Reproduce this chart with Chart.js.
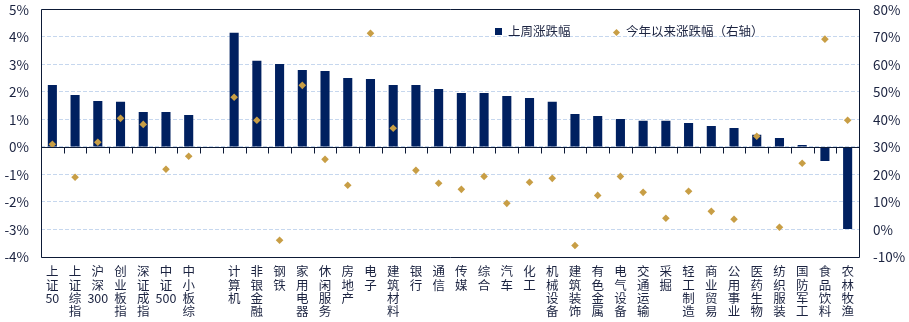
<!DOCTYPE html>
<html>
<head>
<meta charset="utf-8">
<script src="https://cdn.jsdelivr.net/npm/chart.js@4/dist/chart.umd.min.js"></script>
<style>
  html, body { margin: 0; padding: 0; background: #fff; }
  #wrap { position: relative; width: 909px; height: 322px; }
  #c { display: block; }
  .lg { position: absolute; font-family: "Noto Sans CJK SC", sans-serif; font-size: 12.5px; color: #1b2340; line-height: 1; white-space: nowrap; }
  .sq { position: absolute; width: 7px; height: 7px; background: #002060; }
  .dm { position: absolute; width: 5px; height: 5px; background: #c89e45; transform: rotate(45deg); }
</style>
</head>
<body>
<div id="wrap">
  <canvas id="c" width="909" height="322"></canvas>
  <div class="sq" style="left:495px; top:28px;"></div>
  <div class="lg" style="left:508px; top:25px;">上周涨跌幅</div>
  <div class="dm" style="left:614px; top:30px;"></div>
  <div class="lg" style="left:626px; top:25px;">今年以来涨跌幅（右轴）</div>
</div>
<script>
// ---- data ----
const categories = ['上证50','上证综指','沪深300','创业板指','深证成指','中证500','中小板综','',
  '计算机','非银金融','钢铁','家用电器','休闲服务','房地产','电子','建筑材料','银行','通信','传媒',
  '综合','汽车','化工','机械设备','建筑装饰','有色金属','电气设备','交通运输','采掘','轻工制造',
  '商业贸易','公用事业','医药生物','纺织服装','国防军工','食品饮料','农林牧渔'];

// 上周涨跌幅 (%) - left axis
const weeklyChange = [2.25, 1.89, 1.67, 1.64, 1.27, 1.27, 1.16, null,
  4.15, 3.13, 3.02, 2.80, 2.76, 2.51, 2.47, 2.25, 2.25, 2.11, 1.96,
  1.96, 1.85, 1.78, 1.64, 1.20, 1.13, 1.02, 0.95, 0.95, 0.87,
  0.76, 0.69, 0.44, 0.33, 0.07, -0.51, -2.98];

// 今年以来涨跌幅 (%) - right axis
const ytdChange = [31.0, 19.0, 31.7, 40.4, 38.2, 21.9, 26.6, null,
  48.1, 39.7, -3.9, 52.4, 25.5, 16.1, 71.3, 36.8, 21.5, 16.8, 14.6,
  19.3, 9.5, 17.2, 18.6, -5.8, 12.4, 19.3, 13.5, 4.1, 13.9,
  6.6, 3.7, 33.9, 0.8, 24.1, 69.2, 39.7];

const leftAxisRange = [-4, 5, 1];    // min, max, step
const rightAxisRange = [-10, 80, 10];

const seriesNames = ['上周涨跌幅', '今年以来涨跌幅（右轴）'];

function verticalLabel(s) {
  if (!s) return '';
  return s.match(/[0-9]+|./g);
}

const textColor = '#1b2340';
const frameColor = '#0d1a36';

const framePlugin = {
  id: 'frame',
  afterDraw(chart) {
    const { ctx, chartArea: { left, right, top, bottom }, scales: { x, y } } = chart;
    ctx.save();
    ctx.strokeStyle = frameColor;
    ctx.lineWidth = 1;
    ctx.setLineDash([]);
    const y0 = Math.round(y.getPixelForValue(0)) + 0.5;
    ctx.beginPath();
    ctx.moveTo(left, y0);
    ctx.lineTo(right, y0);
    for (let i = 0; i < categories.length - 1; i++) {
      const bx = Math.round((x.getPixelForValue(i) + x.getPixelForValue(i + 1)) / 2) + 0.5;
      ctx.moveTo(bx, y0);
      ctx.lineTo(bx, y0 + 6);
    }
    const l = Math.round(left) + 0.5, t = Math.round(top) + 0.5;
    const r = Math.round(right) + 0.5, b = Math.round(bottom) + 0.5;
    ctx.moveTo(l, t); ctx.lineTo(r, t); ctx.lineTo(r, b); ctx.lineTo(l, b); ctx.closePath();
    ctx.stroke();
    ctx.restore();
  }
};

new Chart(document.getElementById('c'), {
  data: {
    labels: categories.map(verticalLabel),
    datasets: [
      {
        type: 'line',
        label: seriesNames[1],
        data: ytdChange,
        yAxisID: 'y1',
        showLine: false,
        pointStyle: 'rectRot',
        pointRadius: 3.8,
        pointHoverRadius: 3.8,
        pointBackgroundColor: '#c89e45',
        pointBorderColor: '#c89e45',
        pointBorderWidth: 0,
        order: 0
      },
      {
        type: 'bar',
        label: seriesNames[0],
        data: weeklyChange,
        yAxisID: 'y',
        backgroundColor: '#002060',
        barPercentage: 0.4,
        categoryPercentage: 1.0,
        order: 1
      }
    ]
  },
  options: {
    responsive: false,
    animation: false,
    layout: { autoPadding: false, padding: { top: 0, bottom: 0, left: 0, right: 0 } },
    plugins: { legend: { display: false }, tooltip: { enabled: false } },
    scales: {
      x: {
        grid: { display: false, drawTicks: false },
        border: { display: false },
        ticks: {
          autoSkip: false, maxRotation: 0, minRotation: 0, padding: 8,
          color: textColor,
          font: { family: '"Noto Sans CJK SC", sans-serif', size: 12.5, lineHeight: 1.065 }
        },
        afterFit(s) { s.height = 65; }
      },
      y: {
        position: 'left',
        min: leftAxisRange[0], max: leftAxisRange[1],
        grid: {
          drawTicks: true, tickLength: 10, tickColor: 'rgba(0,0,0,0)',
          color: '#c6d7ee', lineWidth: 1
        },
        border: { display: false, dash: [4, 2] },
        ticks: {
          stepSize: leftAxisRange[2], padding: 2, color: textColor,
          font: { family: '"Noto Sans CJK SC", sans-serif', size: 13.5, lineHeight: 1.1 },
          callback: (v) => v + '%'
        },
        afterFit(s) { s.width = 41; }
      },
      y1: {
        position: 'right',
        min: rightAxisRange[0], max: rightAxisRange[1],
        grid: { display: false, drawTicks: true, tickLength: 12, tickColor: 'rgba(0,0,0,0)' },
        border: { display: false },
        ticks: {
          stepSize: rightAxisRange[2], padding: 2, color: textColor,
          font: { family: '"Noto Sans CJK SC", sans-serif', size: 13.5, lineHeight: 1.1 },
          callback: (v) => v + '%'
        },
        afterFit(s) { s.width = 50; }
      }
    }
  },
  plugins: [framePlugin]
});
</script>
</body>
</html>
